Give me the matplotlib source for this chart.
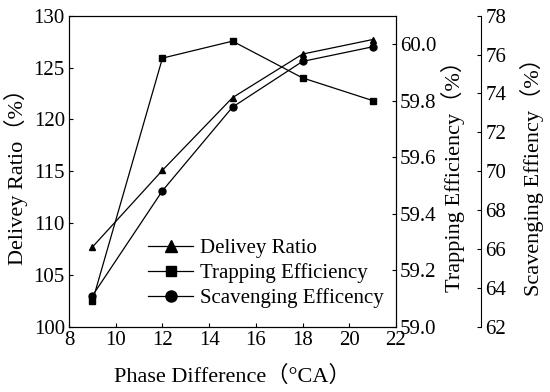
import matplotlib
matplotlib.use('Agg')
import matplotlib.pyplot as plt

plt.rcParams['font.family'] = ['Liberation Serif', 'Noto Sans CJK SC']
plt.rcParams['font.size'] = 15
plt.rcParams['mathtext.fontset'] = 'stix'

phase = [9, 12, 15, 18, 21]
delivery_ratio = [107.7, 115.1, 122.1, 126.3, 127.7]
trapping_eff = [59.09, 59.95, 60.01, 59.88, 59.80]
scavenging_eff = [63.6, 69.0, 73.3, 75.65, 76.4]

fig = plt.figure(figsize=(5.5, 3.92), dpi=100)
ax = fig.add_axes([0.1255, 0.166, 0.5945, 0.794])
ax2 = ax.twinx()
ax3 = ax.twinx()
ax3.spines['right'].set_position(('axes', 1.26))
for s in ['top', 'bottom', 'left']:
    ax3.spines[s].set_visible(False)

lw = 0.9
ms = 5
l1, = ax.plot(phase, delivery_ratio, '-^', color='black', lw=lw, ms=ms, label='Delivey Ratio')
l2, = ax2.plot(phase, trapping_eff, '-s', color='black', lw=lw, ms=ms - 0.5, label='Trapping Efficiency')
l3, = ax3.plot(phase, scavenging_eff, '-o', color='black', lw=lw, ms=ms, label='Scavenging Efficency')

ax.set_xlim(8, 22)
ax.set_ylim(100, 130)
ax.set_xticks(range(8, 23, 2))
ax.set_yticks(range(100, 131, 5))
ax2.set_ylim(59.0, 60.1)
ax2.set_yticks([59.0, 59.2, 59.4, 59.6, 59.8, 60.0])
ax2.set_yticklabels(['59.0', '59.2', '59.4', '59.6', '59.8', '60.0'])
ax3.set_ylim(62, 78)
ax3.set_yticks(range(62, 79, 2))

for a in (ax, ax2, ax3):
    a.tick_params(direction='in', length=3, width=0.8, pad=3)
    for s in a.spines.values():
        s.set_linewidth(0.8)

lab = 16
ax.set_xlabel('Phase Difference（°CA）', fontsize=lab, labelpad=11)
ax.set_ylabel('Delivey Ratio（%）', fontsize=lab, labelpad=4)
ax2.set_ylabel('Trapping Efficiency（%）', fontsize=lab, labelpad=3)
ax3.set_ylabel('Scavenging Effiency（%）', fontsize=lab, labelpad=10)

ax.legend(handles=[l1, l2, l3], loc='lower left', bbox_to_anchor=(0.215, 0.033),
          frameon=False, markerscale=1.6, handlelength=2.2, labelspacing=0.25,
          handletextpad=0.3, borderaxespad=0)

fig.savefig('out.png', dpi=100)
